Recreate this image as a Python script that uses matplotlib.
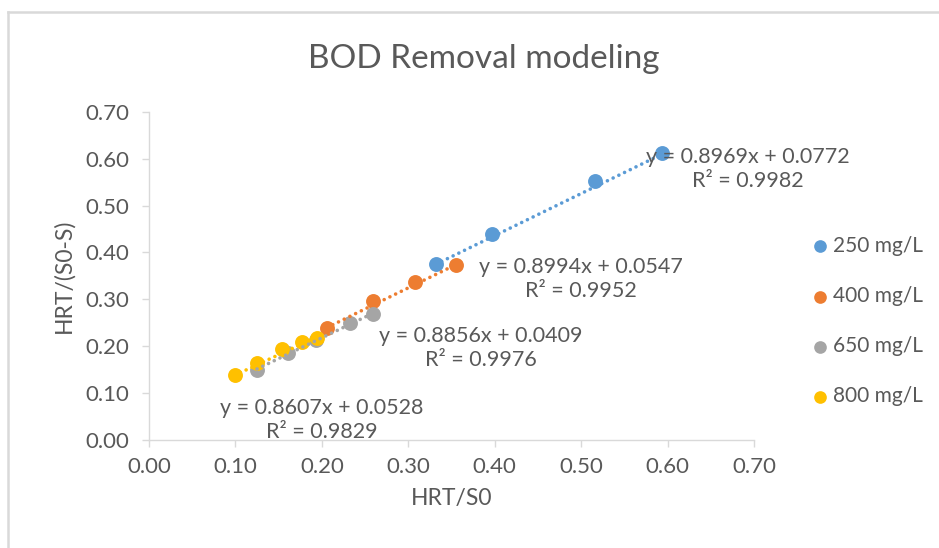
import numpy as np
import matplotlib.pyplot as plt
from matplotlib.lines import Line2D

plt.rcParams["font.family"] = ["Lato", "DejaVu Sans"]

# ── Data ─────────────────────────────────────────────────────────────────────
series_names = ["250 mg/L", "400 mg/L", "650 mg/L", "800 mg/L"]
colors = ["#5B9BD5", "#ED7D31", "#A5A5A5", "#FFC000"]

x_250 = [0.332, 0.397, 0.516, 0.593]
y_250 = [0.375, 0.439, 0.552, 0.612]
x_400 = [0.206, 0.259, 0.308, 0.355]
y_400 = [0.239, 0.296, 0.337, 0.373]
x_650 = [0.125, 0.161, 0.193, 0.232, 0.259]
y_650 = [0.149, 0.185, 0.213, 0.249, 0.269]
x_800 = [0.099, 0.125, 0.154, 0.177, 0.194]
y_800 = [0.139, 0.164, 0.194, 0.209, 0.217]

slopes = [0.8969, 0.8994, 0.8856, 0.8607]
intercepts = [0.0772, 0.0547, 0.0409, 0.0528]
r2 = [0.9982, 0.9952, 0.9976, 0.9829]

xs = [x_250, x_400, x_650, x_800]
ys = [y_250, y_400, y_650, y_800]

# label anchor (centre of the two-line equation block), data coords
label_pos = [(0.693, 0.578), (0.500, 0.344), (0.384, 0.196), (0.200, 0.042)]

text_col = "#595959"
axis_col = "#D9D9D9"

fig = plt.figure(figsize=(9.39, 5.48), dpi=100)
ax = fig.add_axes([0.1587, 0.197, 0.6443, 0.599])

for i, (x, y) in enumerate(zip(xs, ys)):
    ax.scatter(x, y, s=115, color=colors[i], zorder=3 + i, linewidths=0,
               label=series_names[i])

for i, x in enumerate(xs):
    xx = np.array([min(x), max(x)])
    ax.plot(xx, slopes[i] * xx + intercepts[i], color=colors[i], lw=2.6,
            linestyle=(0, (0.01, 1.75)), dash_capstyle="round", zorder=10)

for i, (px, py) in enumerate(label_pos):
    ax.text(px, py, f"y = {slopes[i]:.4f}x + {intercepts[i]:.4f}\nR² = {r2[i]:.4f}",
            ha="center", va="center", multialignment="center", fontsize=15.5,
            color=text_col, linespacing=1.25, zorder=12)

ax.set_xlim(0, 0.7)
ax.set_ylim(0, 0.7)
ticks = np.arange(0, 0.71, 0.1)
ax.set_xticks(ticks)
ax.set_yticks(ticks)
ax.set_xticklabels([f"{t:.2f}" for t in ticks])
ax.set_yticklabels([f"{t:.2f}" for t in ticks])
ax.tick_params(axis="both", colors=axis_col, labelcolor=text_col, labelsize=16,
               length=5, width=1)
ax.tick_params(axis="x", pad=7)
ax.tick_params(axis="y", pad=9)
for s in ["top", "right"]:
    ax.spines[s].set_visible(False)
for s in ["left", "bottom"]:
    ax.spines[s].set_color(axis_col)
    ax.spines[s].set_linewidth(1)

ax.set_xlabel("HRT/S0", fontsize=16.5, color=text_col, labelpad=8)
ax.set_ylabel("HRT/(S0-S)", fontsize=16.5, color=text_col, labelpad=8)
fig.text(0.515, 0.893, "BOD Removal modeling", ha="center", va="center",
         fontsize=24, color=text_col)

fig.legend(loc="center left", bbox_to_anchor=(0.840, 0.414), frameon=False,
           fontsize=15, labelcolor=text_col, markerscale=0.85,
           handletextpad=0.0, labelspacing=1.45, handlelength=1.2)

# chart-area border (light grey, top and left visible in reference)
fig.add_artist(Line2D([8 / 939, 8 / 939], [0, 1 - 12 / 548], color=axis_col,
                      lw=1.8, transform=fig.transFigure))
fig.add_artist(Line2D([8 / 939, 1], [1 - 12 / 548, 1 - 12 / 548], color=axis_col,
                      lw=1.8, transform=fig.transFigure))

fig.savefig("out.png", dpi=100)
